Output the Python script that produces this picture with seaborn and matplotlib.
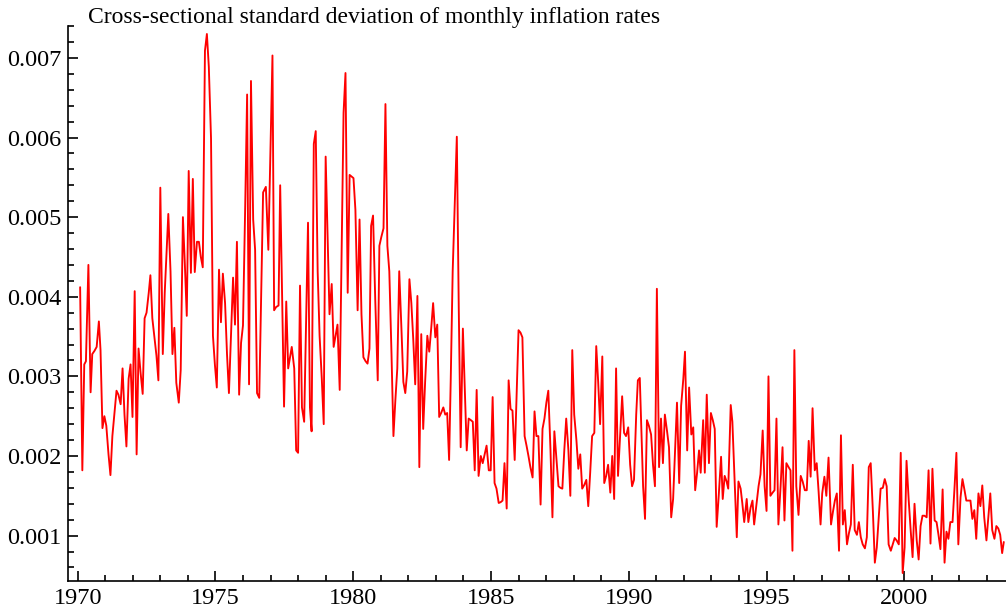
import numpy as np
import pandas as pd
import seaborn as sns
import matplotlib
matplotlib.use("Agg")
import matplotlib.pyplot as plt
from matplotlib.ticker import MultipleLocator, FormatStrFormatter

sns.set_style("ticks")
plt.rcParams['font.family'] = ['Liberation Serif', 'DejaVu Serif']
plt.rcParams['text.color'] = 'black'

# 数据：月度通胀率横截面标准差（单位 0.001），按时间段分开
years_a = [1970.09, 1970.17, 1970.24, 1970.30, 1970.39, 1970.47, 1970.53, 1970.61, 1970.69, 1970.77,
           1970.83, 1970.90, 1970.97, 1971.04, 1971.12, 1971.19, 1971.26, 1971.34, 1971.41, 1971.48,
           1971.56, 1971.63, 1971.70, 1971.77, 1971.85, 1971.92, 1971.99, 1972.07, 1972.14, 1972.21,
           1972.28, 1972.36, 1972.43, 1972.50, 1972.58, 1972.64, 1972.71, 1972.78, 1972.86, 1972.93,
           1973.00, 1973.09, 1973.16, 1973.23, 1973.29, 1973.37, 1973.44, 1973.51, 1973.58, 1973.67,
           1973.74, 1973.82, 1973.89, 1973.96, 1974.03, 1974.11, 1974.18, 1974.25, 1974.33, 1974.40,
           1974.47, 1974.54, 1974.62, 1974.69, 1974.76, 1974.84, 1974.91, 1974.98, 1975.05, 1975.13,
           1975.20, 1975.27, 1975.35, 1975.42, 1975.49, 1975.56, 1975.64, 1975.71, 1975.78, 1975.86,
           1975.93, 1976.00, 1976.08, 1976.15, 1976.22, 1976.29, 1976.37, 1976.44, 1976.51, 1976.59,
           1976.66, 1976.73]
sd_a = [4.12, 1.82, 3.15, 3.19, 4.40, 2.80, 3.28, 3.32, 3.37, 3.69,
        3.33, 2.35, 2.50, 2.38, 2.02, 1.76, 2.25, 2.56, 2.82, 2.77,
        2.65, 3.10, 2.52, 2.12, 2.97, 3.15, 2.49, 4.07, 2.02, 3.35,
        3.06, 2.78, 3.73, 3.80, 4.05, 4.27, 3.73, 3.51, 3.26, 2.95,
        5.37, 3.28, 4.05, 4.59, 5.04, 4.32, 3.28, 3.61, 2.92, 2.67,
        3.08, 5.00, 4.41, 3.76, 5.58, 4.30, 5.48, 4.31, 4.69, 4.69,
        4.50, 4.37, 7.09, 7.30, 6.89, 5.99, 3.51, 3.15, 2.86, 4.34,
        3.68, 4.29, 3.92, 3.28, 2.79, 3.46, 4.24, 3.65, 4.69, 2.77,
        3.42, 3.64, 5.13, 6.54, 2.90, 6.71, 4.97, 4.59, 2.79, 2.73,
        4.05, 5.31]

years_b = [1976.83, 1976.92, 1977.07, 1977.13, 1977.20, 1977.29, 1977.35, 1977.49, 1977.57, 1977.64,
           1977.77, 1977.86, 1977.93, 1978.00, 1978.07, 1978.14, 1978.22, 1978.36, 1978.43, 1978.49,
           1978.57, 1978.64, 1978.71, 1978.78, 1978.86, 1978.93, 1979.00, 1979.07, 1979.14, 1979.22,
           1979.29, 1979.36, 1979.43, 1979.51, 1979.58, 1979.65, 1979.72, 1979.80, 1979.87, 1979.94,
           1980.01, 1980.08, 1980.16, 1980.23, 1980.30, 1980.37, 1980.45, 1980.52, 1980.59, 1980.65,
           1980.72, 1980.80, 1980.89, 1980.95, 1981.02, 1981.10, 1981.17, 1981.24, 1981.31, 1981.39,
           1981.46, 1981.53, 1981.60, 1981.67, 1981.75, 1981.82, 1981.89, 1981.96, 1982.04, 1982.11,
           1982.18, 1982.25, 1982.33, 1982.40, 1982.47, 1982.54, 1982.61, 1982.69, 1982.76, 1982.83,
           1982.90, 1982.98, 1983.05, 1983.12, 1983.19, 1983.27, 1983.34, 1983.41, 1983.48]
sd_b = [5.38, 4.59, 7.03, 3.83, 3.87, 3.89, 5.40, 2.62, 3.94, 3.10,
        3.37, 3.10, 2.07, 2.04, 4.14, 2.61, 2.43, 4.93, 2.61, 2.31,
        5.92, 6.08, 4.32, 3.51, 2.97, 2.40, 5.76, 4.77, 3.78, 4.16,
        3.37, 3.51, 3.65, 2.83, 4.59, 6.31, 6.81, 4.05, 5.53, 5.51,
        5.49, 5.09, 3.83, 4.97, 3.78, 3.24, 3.19, 3.16, 3.35, 4.89,
        5.02, 3.96, 2.95, 4.64, 4.75, 4.86, 6.42, 4.64, 4.32, 3.28,
        2.25, 2.70, 3.10, 4.32, 3.60, 2.93, 2.79, 3.06, 4.22, 3.92,
        3.46, 2.90, 4.01, 1.86, 3.53, 2.34, 2.93, 3.51, 3.31, 3.60,
        3.92, 3.49, 3.65, 2.49, 2.54, 2.61, 2.52, 2.54, 1.95]

years_c = [1983.54, 1983.61, 1983.76, 1983.83, 1983.90, 1983.98, 1984.05, 1984.12, 1984.19, 1984.27,
           1984.34, 1984.41, 1984.48, 1984.55, 1984.63, 1984.70, 1984.77, 1984.84, 1984.92, 1984.99,
           1985.06, 1985.13, 1985.20, 1985.28, 1985.35, 1985.42, 1985.49, 1985.57, 1985.64, 1985.71,
           1985.78, 1985.86, 1986.00, 1986.07, 1986.14, 1986.22, 1986.29, 1986.36, 1986.43, 1986.51,
           1986.58, 1986.65, 1986.72, 1986.80, 1986.87, 1986.94, 1987.01, 1987.08, 1987.16, 1987.23,
           1987.30, 1987.37, 1987.45, 1987.52, 1987.59, 1987.66, 1987.73, 1987.81, 1987.88, 1987.95,
           1988.02, 1988.10, 1988.17, 1988.24, 1988.31, 1988.39, 1988.46, 1988.53, 1988.60, 1988.67,
           1988.75, 1988.82, 1988.89, 1988.96, 1989.04, 1989.11, 1989.18, 1989.25, 1989.33, 1989.40,
           1989.47, 1989.54, 1989.61, 1989.69, 1989.76, 1989.83, 1989.90, 1989.98, 1990.05, 1990.12,
           1990.19, 1990.27, 1990.33]
sd_c = [2.97, 4.32, 6.01, 3.87, 2.11, 3.60, 2.83, 2.07, 2.47, 2.45,
        2.43, 1.82, 2.83, 1.75, 2.00, 1.91, 2.02, 2.13, 1.82, 1.82,
        2.74, 1.66, 1.59, 1.41, 1.42, 1.44, 1.91, 1.34, 2.95, 2.59,
        2.57, 1.95, 3.58, 3.55, 3.49, 2.25, 2.13, 2.00, 1.86, 1.73,
        2.56, 2.25, 2.25, 1.39, 2.34, 2.47, 2.67, 2.82, 2.07, 1.23,
        2.31, 1.98, 1.62, 1.60, 1.59, 2.07, 2.47, 2.07, 1.50, 3.33,
        2.52, 2.20, 1.84, 2.02, 1.59, 1.64, 1.70, 1.37, 1.79, 2.25,
        2.29, 3.38, 2.93, 2.40, 3.25, 1.66, 1.75, 1.89, 1.54, 2.00,
        1.46, 3.10, 1.75, 2.29, 2.75, 2.29, 2.25, 2.36, 1.89, 1.62,
        1.70, 2.52, 2.95]

years_d = [1990.40, 1990.52, 1990.59, 1990.66, 1990.73, 1990.81, 1990.88, 1990.95, 1991.02, 1991.10,
           1991.17, 1991.24, 1991.31, 1991.39, 1991.46, 1991.54, 1991.61, 1991.68, 1991.75, 1991.83,
           1991.90, 1991.98, 1992.04, 1992.12, 1992.19, 1992.27, 1992.34, 1992.41, 1992.48, 1992.55,
           1992.61, 1992.70, 1992.76, 1992.83, 1992.91, 1992.98, 1993.05, 1993.12, 1993.19, 1993.27,
           1993.35, 1993.41, 1993.48, 1993.55, 1993.61, 1993.70, 1993.76, 1993.83, 1993.92, 1993.98,
           1994.06, 1994.12, 1994.19, 1994.28, 1994.34, 1994.42, 1994.49, 1994.55, 1994.64, 1994.71,
           1994.78, 1994.86, 1994.93, 1995.00, 1995.07, 1995.14, 1995.22, 1995.29, 1995.36, 1995.43,
           1995.51, 1995.58, 1995.65, 1995.72, 1995.80, 1995.87, 1995.94, 1996.01, 1996.08, 1996.16,
           1996.24, 1996.31, 1996.39, 1996.46, 1996.53, 1996.60, 1996.67, 1996.75, 1996.82, 1996.89,
           1996.96, 1997.02, 1997.10, 1997.17]
sd_d = [2.98, 1.62, 1.21, 2.45, 2.38, 2.27, 1.89, 1.62, 4.10, 1.86,
        2.47, 1.91, 2.52, 2.31, 2.11, 1.23, 1.46, 2.07, 2.67, 1.66,
        2.63, 2.97, 3.31, 2.07, 2.86, 2.27, 2.36, 1.57, 1.79, 2.07,
        1.79, 2.45, 1.79, 2.77, 1.91, 2.54, 2.45, 2.34, 1.11, 1.53,
        1.99, 1.46, 1.75, 1.68, 1.59, 2.64, 2.43, 1.79, 0.98, 1.68,
        1.59, 1.41, 1.17, 1.46, 1.17, 1.35, 1.44, 1.14, 1.41, 1.62,
        1.77, 2.32, 1.62, 1.31, 3.00, 1.50, 1.54, 1.57, 2.47, 1.14,
        1.62, 2.11, 1.19, 1.91, 1.86, 1.82, 0.81, 3.33, 1.62, 1.26,
        1.75, 1.68, 1.57, 1.57, 2.19, 1.74, 2.60, 1.82, 1.91, 1.55,
        1.14, 1.53, 1.74, 1.50]

years_e = [1997.25, 1997.34, 1997.41, 1997.48, 1997.55, 1997.63, 1997.70, 1997.77, 1997.84, 1997.92,
           1997.99, 1998.06, 1998.13, 1998.20, 1998.28, 1998.35, 1998.42, 1998.49, 1998.57, 1998.64,
           1998.71, 1998.78, 1998.86, 1998.93, 1999.00, 1999.07, 1999.14, 1999.22, 1999.29, 1999.36,
           1999.43, 1999.51, 1999.58, 1999.65, 1999.72, 1999.80, 1999.87, 1999.94, 2000.01, 2000.08,
           2000.16, 2000.23, 2000.30, 2000.37, 2000.45, 2000.52, 2000.59, 2000.66, 2000.73, 2000.81,
           2000.88, 2000.95, 2001.02, 2001.10, 2001.17, 2001.24, 2001.31, 2001.39, 2001.46, 2001.53,
           2001.60, 2001.67, 2001.75, 2001.82, 2001.89, 2001.96, 2002.04, 2002.11, 2002.18, 2002.25,
           2002.33, 2002.40, 2002.47, 2002.54, 2002.61, 2002.69, 2002.76, 2002.83, 2002.90, 2002.98,
           2003.05, 2003.12, 2003.19, 2003.27, 2003.34, 2003.41, 2003.48, 2003.55, 2003.61]
sd_e = [1.98, 1.14, 1.30, 1.44, 1.53, 0.81, 2.26, 1.14, 1.32, 0.89,
        1.03, 1.14, 1.89, 1.07, 1.01, 1.17, 0.98, 0.89, 0.84, 0.98,
        1.86, 1.91, 1.30, 0.66, 0.85, 1.21, 1.59, 1.60, 1.71, 1.62,
        0.89, 0.81, 0.89, 0.97, 0.94, 0.89, 2.04, 0.53, 0.85, 1.94,
        1.44, 1.07, 0.73, 1.40, 0.94, 0.70, 1.12, 1.25, 1.25, 1.23,
        1.82, 0.90, 1.84, 1.19, 1.17, 1.01, 0.83, 1.58, 0.66, 1.05,
        0.96, 1.17, 1.17, 1.59, 2.04, 0.89, 1.48, 1.71, 1.58, 1.44,
        1.44, 1.44, 1.21, 1.32, 0.96, 1.53, 1.37, 1.63, 1.23, 0.94,
        1.23, 1.53, 1.07, 0.96, 1.12, 1.09, 1.01, 0.78, 0.92]

df = pd.DataFrame({
    "year": years_a + years_b + years_c + years_d + years_e,
    "sd": np.array(sd_a + sd_b + sd_c + sd_d + sd_e) * 1e-3,
})

fig = plt.figure(figsize=(10.06, 6.11), dpi=100)
ax = fig.add_axes([0.0676, 0.0491, 0.9324, 0.9083])

sns.lineplot(data=df, x="year", y="sd", color="red", linewidth=1.35,
             estimator=None, sort=False, ax=ax)

ax.set_xlim(1969.65, 2003.69)
ax.set_ylim(0.00043, 0.0074)
ax.set_xlabel("")
ax.set_ylabel("")

ax.xaxis.set_major_locator(MultipleLocator(5))
ax.xaxis.set_minor_locator(MultipleLocator(1))
ax.yaxis.set_major_locator(MultipleLocator(0.001))
ax.yaxis.set_minor_locator(MultipleLocator(0.0002))
ax.yaxis.set_major_formatter(FormatStrFormatter("%.3f"))

ax.tick_params(which="both", direction="in", width=1.2, colors="black", labelsize=17.5)
ax.tick_params(which="major", length=7)
ax.tick_params(which="minor", length=4)
ax.tick_params(axis="y", pad=5)
ax.tick_params(axis="x", pad=5)

for side in ["top", "right"]:
    ax.spines[side].set_visible(False)
for side in ["left", "bottom"]:
    ax.spines[side].set_linewidth(1.2)
    ax.spines[side].set_color("black")

fig.text(88 / 1006, (611 - 23) / 611,
         "Cross-sectional standard deviation of monthly inflation rates",
         fontsize=17, color="black", va="baseline", ha="left")

fig.savefig("out.png", dpi=100)
